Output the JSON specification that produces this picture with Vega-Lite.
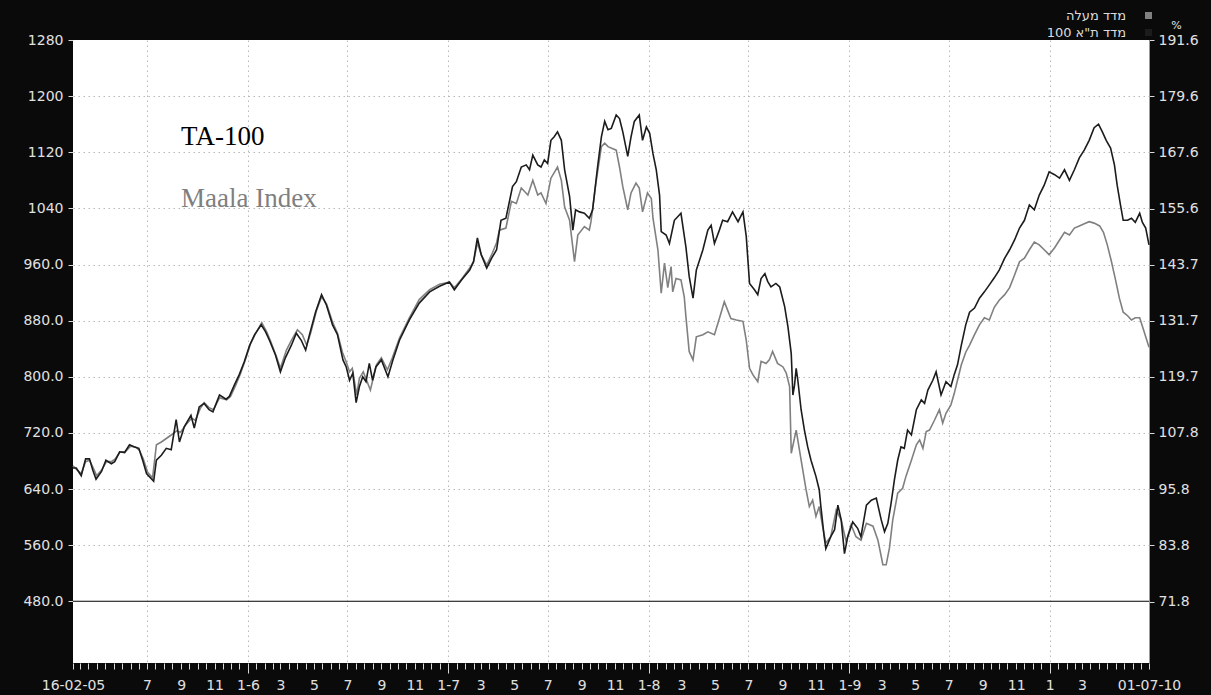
{
  "$schema": "https://vega.github.io/schema/vega-lite/v6.json",
  "width": 1076,
  "height": 623,
  "autosize": "none",
  "padding": {"left": 73, "top": 40, "right": 62, "bottom": 32},
  "background": "#0a0a0a",
  "config": {
    "view": {"fill": "#ffffff", "stroke": null},
    "font": "DejaVu Sans"
  },
  "datasets": {
    "prices": [
      {"date": "2005-02-16", "series": "Maala", "value": 673},
      {"date": "2005-02-24", "series": "Maala", "value": 667},
      {"date": "2005-03-03", "series": "Maala", "value": 662},
      {"date": "2005-03-11", "series": "Maala", "value": 679},
      {"date": "2005-03-18", "series": "Maala", "value": 681},
      {"date": "2005-03-25", "series": "Maala", "value": 670},
      {"date": "2005-03-31", "series": "Maala", "value": 659},
      {"date": "2005-04-09", "series": "Maala", "value": 667},
      {"date": "2005-04-18", "series": "Maala", "value": 679},
      {"date": "2005-04-27", "series": "Maala", "value": 679},
      {"date": "2005-05-04", "series": "Maala", "value": 683},
      {"date": "2005-05-13", "series": "Maala", "value": 693},
      {"date": "2005-05-22", "series": "Maala", "value": 693},
      {"date": "2005-06-01", "series": "Maala", "value": 701},
      {"date": "2005-06-10", "series": "Maala", "value": 700},
      {"date": "2005-06-17", "series": "Maala", "value": 695},
      {"date": "2005-06-24", "series": "Maala", "value": 683},
      {"date": "2005-07-02", "series": "Maala", "value": 664},
      {"date": "2005-07-11", "series": "Maala", "value": 656},
      {"date": "2005-07-18", "series": "Maala", "value": 703},
      {"date": "2005-07-27", "series": "Maala", "value": 707},
      {"date": "2005-08-05", "series": "Maala", "value": 712},
      {"date": "2005-08-14", "series": "Maala", "value": 717},
      {"date": "2005-08-24", "series": "Maala", "value": 723},
      {"date": "2005-08-31", "series": "Maala", "value": 721},
      {"date": "2005-09-09", "series": "Maala", "value": 731},
      {"date": "2005-09-20", "series": "Maala", "value": 741},
      {"date": "2005-09-27", "series": "Maala", "value": 738},
      {"date": "2005-10-06", "series": "Maala", "value": 755},
      {"date": "2005-10-13", "series": "Maala", "value": 763},
      {"date": "2005-10-22", "series": "Maala", "value": 756},
      {"date": "2005-10-30", "series": "Maala", "value": 753},
      {"date": "2005-11-10", "series": "Maala", "value": 770},
      {"date": "2005-11-23", "series": "Maala", "value": 767},
      {"date": "2005-11-30", "series": "Maala", "value": 772},
      {"date": "2005-12-09", "series": "Maala", "value": 787},
      {"date": "2005-12-18", "series": "Maala", "value": 804},
      {"date": "2005-12-27", "series": "Maala", "value": 824},
      {"date": "2006-01-06", "series": "Maala", "value": 848},
      {"date": "2006-01-15", "series": "Maala", "value": 862},
      {"date": "2006-01-26", "series": "Maala", "value": 877},
      {"date": "2006-02-04", "series": "Maala", "value": 864},
      {"date": "2006-02-11", "series": "Maala", "value": 851},
      {"date": "2006-02-22", "series": "Maala", "value": 828},
      {"date": "2006-03-01", "series": "Maala", "value": 812},
      {"date": "2006-03-12", "series": "Maala", "value": 838},
      {"date": "2006-03-21", "series": "Maala", "value": 852},
      {"date": "2006-04-01", "series": "Maala", "value": 867},
      {"date": "2006-04-10", "series": "Maala", "value": 860},
      {"date": "2006-04-18", "series": "Maala", "value": 845},
      {"date": "2006-04-25", "series": "Maala", "value": 862},
      {"date": "2006-05-06", "series": "Maala", "value": 895},
      {"date": "2006-05-15", "series": "Maala", "value": 914},
      {"date": "2006-05-24", "series": "Maala", "value": 904},
      {"date": "2006-06-04", "series": "Maala", "value": 878},
      {"date": "2006-06-13", "series": "Maala", "value": 862},
      {"date": "2006-06-22", "series": "Maala", "value": 835},
      {"date": "2006-06-29", "series": "Maala", "value": 821},
      {"date": "2006-07-05", "series": "Maala", "value": 807},
      {"date": "2006-07-10", "series": "Maala", "value": 812},
      {"date": "2006-07-18", "series": "Maala", "value": 774},
      {"date": "2006-07-23", "series": "Maala", "value": 798},
      {"date": "2006-07-30", "series": "Maala", "value": 807},
      {"date": "2006-08-05", "series": "Maala", "value": 795},
      {"date": "2006-08-12", "series": "Maala", "value": 781},
      {"date": "2006-08-18", "series": "Maala", "value": 801},
      {"date": "2006-08-23", "series": "Maala", "value": 817},
      {"date": "2006-09-01", "series": "Maala", "value": 827},
      {"date": "2006-09-12", "series": "Maala", "value": 810},
      {"date": "2006-09-21", "series": "Maala", "value": 827},
      {"date": "2006-10-04", "series": "Maala", "value": 855},
      {"date": "2006-10-22", "series": "Maala", "value": 884},
      {"date": "2006-11-09", "series": "Maala", "value": 910},
      {"date": "2006-11-28", "series": "Maala", "value": 924},
      {"date": "2006-12-16", "series": "Maala", "value": 932},
      {"date": "2007-01-03", "series": "Maala", "value": 935},
      {"date": "2007-01-12", "series": "Maala", "value": 927},
      {"date": "2007-01-25", "series": "Maala", "value": 939},
      {"date": "2007-02-09", "series": "Maala", "value": 955},
      {"date": "2007-02-16", "series": "Maala", "value": 964},
      {"date": "2007-02-23", "series": "Maala", "value": 991},
      {"date": "2007-03-02", "series": "Maala", "value": 974},
      {"date": "2007-03-12", "series": "Maala", "value": 959},
      {"date": "2007-03-21", "series": "Maala", "value": 974},
      {"date": "2007-03-30", "series": "Maala", "value": 991},
      {"date": "2007-04-04", "series": "Maala", "value": 1009},
      {"date": "2007-04-16", "series": "Maala", "value": 1012},
      {"date": "2007-04-26", "series": "Maala", "value": 1050},
      {"date": "2007-05-05", "series": "Maala", "value": 1047},
      {"date": "2007-05-14", "series": "Maala", "value": 1069},
      {"date": "2007-05-26", "series": "Maala", "value": 1059},
      {"date": "2007-06-04", "series": "Maala", "value": 1080},
      {"date": "2007-06-13", "series": "Maala", "value": 1059},
      {"date": "2007-06-19", "series": "Maala", "value": 1062},
      {"date": "2007-06-28", "series": "Maala", "value": 1047},
      {"date": "2007-07-07", "series": "Maala", "value": 1083},
      {"date": "2007-07-19", "series": "Maala", "value": 1099},
      {"date": "2007-07-26", "series": "Maala", "value": 1080},
      {"date": "2007-08-01", "series": "Maala", "value": 1042},
      {"date": "2007-08-10", "series": "Maala", "value": 1023},
      {"date": "2007-08-19", "series": "Maala", "value": 964},
      {"date": "2007-08-25", "series": "Maala", "value": 1002},
      {"date": "2007-09-06", "series": "Maala", "value": 1014},
      {"date": "2007-09-15", "series": "Maala", "value": 1009},
      {"date": "2007-09-18", "series": "Maala", "value": 1021},
      {"date": "2007-09-27", "series": "Maala", "value": 1076},
      {"date": "2007-10-07", "series": "Maala", "value": 1128},
      {"date": "2007-10-13", "series": "Maala", "value": 1133},
      {"date": "2007-10-19", "series": "Maala", "value": 1128},
      {"date": "2007-11-03", "series": "Maala", "value": 1123},
      {"date": "2007-11-09", "series": "Maala", "value": 1099},
      {"date": "2007-11-15", "series": "Maala", "value": 1071},
      {"date": "2007-11-24", "series": "Maala", "value": 1038},
      {"date": "2007-11-30", "series": "Maala", "value": 1062},
      {"date": "2007-12-09", "series": "Maala", "value": 1076},
      {"date": "2007-12-15", "series": "Maala", "value": 1069},
      {"date": "2007-12-21", "series": "Maala", "value": 1035},
      {"date": "2007-12-30", "series": "Maala", "value": 1062},
      {"date": "2008-01-06", "series": "Maala", "value": 1054},
      {"date": "2008-01-09", "series": "Maala", "value": 1026},
      {"date": "2008-01-18", "series": "Maala", "value": 981},
      {"date": "2008-01-24", "series": "Maala", "value": 919},
      {"date": "2008-01-30", "series": "Maala", "value": 962},
      {"date": "2008-02-05", "series": "Maala", "value": 927},
      {"date": "2008-02-11", "series": "Maala", "value": 957},
      {"date": "2008-02-14", "series": "Maala", "value": 921},
      {"date": "2008-02-20", "series": "Maala", "value": 940},
      {"date": "2008-02-29", "series": "Maala", "value": 938},
      {"date": "2008-03-06", "series": "Maala", "value": 914},
      {"date": "2008-03-09", "series": "Maala", "value": 886},
      {"date": "2008-03-15", "series": "Maala", "value": 836},
      {"date": "2008-03-22", "series": "Maala", "value": 824},
      {"date": "2008-03-28", "series": "Maala", "value": 857},
      {"date": "2008-04-09", "series": "Maala", "value": 860},
      {"date": "2008-04-18", "series": "Maala", "value": 864},
      {"date": "2008-04-30", "series": "Maala", "value": 860},
      {"date": "2008-05-09", "series": "Maala", "value": 883},
      {"date": "2008-05-18", "series": "Maala", "value": 907},
      {"date": "2008-05-24", "series": "Maala", "value": 895},
      {"date": "2008-05-30", "series": "Maala", "value": 883},
      {"date": "2008-06-09", "series": "Maala", "value": 881},
      {"date": "2008-06-21", "series": "Maala", "value": 879},
      {"date": "2008-06-27", "series": "Maala", "value": 852},
      {"date": "2008-07-03", "series": "Maala", "value": 812},
      {"date": "2008-07-09", "series": "Maala", "value": 803},
      {"date": "2008-07-18", "series": "Maala", "value": 793},
      {"date": "2008-07-24", "series": "Maala", "value": 822},
      {"date": "2008-08-02", "series": "Maala", "value": 819},
      {"date": "2008-08-08", "series": "Maala", "value": 824},
      {"date": "2008-08-14", "series": "Maala", "value": 836},
      {"date": "2008-08-23", "series": "Maala", "value": 819},
      {"date": "2008-09-02", "series": "Maala", "value": 814},
      {"date": "2008-09-08", "series": "Maala", "value": 805},
      {"date": "2008-09-14", "series": "Maala", "value": 786},
      {"date": "2008-09-17", "series": "Maala", "value": 691},
      {"date": "2008-09-26", "series": "Maala", "value": 724},
      {"date": "2008-10-05", "series": "Maala", "value": 681},
      {"date": "2008-10-14", "series": "Maala", "value": 639},
      {"date": "2008-10-20", "series": "Maala", "value": 615},
      {"date": "2008-10-26", "series": "Maala", "value": 624},
      {"date": "2008-11-01", "series": "Maala", "value": 601},
      {"date": "2008-11-07", "series": "Maala", "value": 615},
      {"date": "2008-11-13", "series": "Maala", "value": 587},
      {"date": "2008-11-19", "series": "Maala", "value": 563},
      {"date": "2008-11-28", "series": "Maala", "value": 572},
      {"date": "2008-12-08", "series": "Maala", "value": 610},
      {"date": "2008-12-17", "series": "Maala", "value": 596},
      {"date": "2008-12-26", "series": "Maala", "value": 565},
      {"date": "2009-01-04", "series": "Maala", "value": 589},
      {"date": "2009-01-13", "series": "Maala", "value": 572},
      {"date": "2009-01-22", "series": "Maala", "value": 567},
      {"date": "2009-02-01", "series": "Maala", "value": 591},
      {"date": "2009-02-13", "series": "Maala", "value": 587},
      {"date": "2009-02-22", "series": "Maala", "value": 567},
      {"date": "2009-03-03", "series": "Maala", "value": 532},
      {"date": "2009-03-09", "series": "Maala", "value": 532},
      {"date": "2009-03-15", "series": "Maala", "value": 556},
      {"date": "2009-03-21", "series": "Maala", "value": 596},
      {"date": "2009-03-30", "series": "Maala", "value": 634},
      {"date": "2009-04-08", "series": "Maala", "value": 641},
      {"date": "2009-04-14", "series": "Maala", "value": 658},
      {"date": "2009-04-24", "series": "Maala", "value": 681},
      {"date": "2009-05-03", "series": "Maala", "value": 703},
      {"date": "2009-05-09", "series": "Maala", "value": 710},
      {"date": "2009-05-15", "series": "Maala", "value": 698},
      {"date": "2009-05-21", "series": "Maala", "value": 722},
      {"date": "2009-05-27", "series": "Maala", "value": 724},
      {"date": "2009-06-05", "series": "Maala", "value": 738},
      {"date": "2009-06-14", "series": "Maala", "value": 753},
      {"date": "2009-06-20", "series": "Maala", "value": 734},
      {"date": "2009-06-26", "series": "Maala", "value": 748},
      {"date": "2009-07-05", "series": "Maala", "value": 760},
      {"date": "2009-07-11", "series": "Maala", "value": 776},
      {"date": "2009-07-17", "series": "Maala", "value": 795},
      {"date": "2009-07-24", "series": "Maala", "value": 817},
      {"date": "2009-08-01", "series": "Maala", "value": 835},
      {"date": "2009-08-08", "series": "Maala", "value": 845},
      {"date": "2009-08-17", "series": "Maala", "value": 860},
      {"date": "2009-08-26", "series": "Maala", "value": 874},
      {"date": "2009-09-04", "series": "Maala", "value": 884},
      {"date": "2009-09-13", "series": "Maala", "value": 881},
      {"date": "2009-09-22", "series": "Maala", "value": 899},
      {"date": "2009-10-01", "series": "Maala", "value": 909},
      {"date": "2009-10-11", "series": "Maala", "value": 917},
      {"date": "2009-10-20", "series": "Maala", "value": 927},
      {"date": "2009-10-29", "series": "Maala", "value": 945},
      {"date": "2009-11-07", "series": "Maala", "value": 964},
      {"date": "2009-11-16", "series": "Maala", "value": 969},
      {"date": "2009-11-25", "series": "Maala", "value": 981},
      {"date": "2009-12-04", "series": "Maala", "value": 992},
      {"date": "2009-12-13", "series": "Maala", "value": 988},
      {"date": "2009-12-22", "series": "Maala", "value": 981},
      {"date": "2009-12-31", "series": "Maala", "value": 974},
      {"date": "2010-01-10", "series": "Maala", "value": 984},
      {"date": "2010-01-19", "series": "Maala", "value": 995},
      {"date": "2010-01-28", "series": "Maala", "value": 1006},
      {"date": "2010-02-06", "series": "Maala", "value": 1002},
      {"date": "2010-02-15", "series": "Maala", "value": 1012},
      {"date": "2010-02-24", "series": "Maala", "value": 1015},
      {"date": "2010-03-05", "series": "Maala", "value": 1018},
      {"date": "2010-03-14", "series": "Maala", "value": 1021},
      {"date": "2010-03-23", "series": "Maala", "value": 1019},
      {"date": "2010-04-02", "series": "Maala", "value": 1015},
      {"date": "2010-04-09", "series": "Maala", "value": 1006},
      {"date": "2010-04-16", "series": "Maala", "value": 988},
      {"date": "2010-04-23", "series": "Maala", "value": 966},
      {"date": "2010-05-01", "series": "Maala", "value": 938},
      {"date": "2010-05-08", "series": "Maala", "value": 912},
      {"date": "2010-05-15", "series": "Maala", "value": 892},
      {"date": "2010-05-23", "series": "Maala", "value": 887},
      {"date": "2010-05-30", "series": "Maala", "value": 881},
      {"date": "2010-06-06", "series": "Maala", "value": 884},
      {"date": "2010-06-14", "series": "Maala", "value": 884},
      {"date": "2010-06-21", "series": "Maala", "value": 867},
      {"date": "2010-07-01", "series": "Maala", "value": 842},
      {"date": "2005-02-16", "series": "TA-100", "value": 670},
      {"date": "2005-02-22", "series": "TA-100", "value": 670},
      {"date": "2005-03-03", "series": "TA-100", "value": 659},
      {"date": "2005-03-11", "series": "TA-100", "value": 683},
      {"date": "2005-03-18", "series": "TA-100", "value": 683},
      {"date": "2005-03-24", "series": "TA-100", "value": 667},
      {"date": "2005-03-30", "series": "TA-100", "value": 654},
      {"date": "2005-04-09", "series": "TA-100", "value": 665},
      {"date": "2005-04-17", "series": "TA-100", "value": 681},
      {"date": "2005-04-27", "series": "TA-100", "value": 676},
      {"date": "2005-05-03", "series": "TA-100", "value": 679},
      {"date": "2005-05-12", "series": "TA-100", "value": 693},
      {"date": "2005-05-21", "series": "TA-100", "value": 692},
      {"date": "2005-05-30", "series": "TA-100", "value": 703},
      {"date": "2005-06-08", "series": "TA-100", "value": 700},
      {"date": "2005-06-16", "series": "TA-100", "value": 698},
      {"date": "2005-06-23", "series": "TA-100", "value": 681},
      {"date": "2005-06-30", "series": "TA-100", "value": 662},
      {"date": "2005-07-13", "series": "TA-100", "value": 651},
      {"date": "2005-07-18", "series": "TA-100", "value": 681},
      {"date": "2005-07-27", "series": "TA-100", "value": 688},
      {"date": "2005-08-05", "series": "TA-100", "value": 698},
      {"date": "2005-08-14", "series": "TA-100", "value": 696},
      {"date": "2005-08-23", "series": "TA-100", "value": 739},
      {"date": "2005-08-29", "series": "TA-100", "value": 707},
      {"date": "2005-09-07", "series": "TA-100", "value": 729},
      {"date": "2005-09-19", "series": "TA-100", "value": 745},
      {"date": "2005-09-25", "series": "TA-100", "value": 727},
      {"date": "2005-10-04", "series": "TA-100", "value": 757},
      {"date": "2005-10-13", "series": "TA-100", "value": 762},
      {"date": "2005-10-22", "series": "TA-100", "value": 753},
      {"date": "2005-10-29", "series": "TA-100", "value": 750},
      {"date": "2005-11-10", "series": "TA-100", "value": 774},
      {"date": "2005-11-22", "series": "TA-100", "value": 768},
      {"date": "2005-11-28", "series": "TA-100", "value": 772},
      {"date": "2005-12-07", "series": "TA-100", "value": 788},
      {"date": "2005-12-16", "series": "TA-100", "value": 803},
      {"date": "2005-12-25", "series": "TA-100", "value": 821},
      {"date": "2006-01-04", "series": "TA-100", "value": 845},
      {"date": "2006-01-13", "series": "TA-100", "value": 860},
      {"date": "2006-01-25", "series": "TA-100", "value": 874},
      {"date": "2006-02-02", "series": "TA-100", "value": 864},
      {"date": "2006-02-09", "series": "TA-100", "value": 852},
      {"date": "2006-02-20", "series": "TA-100", "value": 831},
      {"date": "2006-03-01", "series": "TA-100", "value": 807},
      {"date": "2006-03-10", "series": "TA-100", "value": 827},
      {"date": "2006-03-21", "series": "TA-100", "value": 845},
      {"date": "2006-03-30", "series": "TA-100", "value": 862},
      {"date": "2006-04-08", "series": "TA-100", "value": 852},
      {"date": "2006-04-16", "series": "TA-100", "value": 838},
      {"date": "2006-04-23", "series": "TA-100", "value": 860},
      {"date": "2006-05-04", "series": "TA-100", "value": 892},
      {"date": "2006-05-15", "series": "TA-100", "value": 917},
      {"date": "2006-05-24", "series": "TA-100", "value": 902},
      {"date": "2006-06-04", "series": "TA-100", "value": 874},
      {"date": "2006-06-13", "series": "TA-100", "value": 860},
      {"date": "2006-06-23", "series": "TA-100", "value": 824},
      {"date": "2006-06-29", "series": "TA-100", "value": 814},
      {"date": "2006-07-05", "series": "TA-100", "value": 795},
      {"date": "2006-07-11", "series": "TA-100", "value": 805},
      {"date": "2006-07-17", "series": "TA-100", "value": 763},
      {"date": "2006-07-23", "series": "TA-100", "value": 786},
      {"date": "2006-07-29", "series": "TA-100", "value": 800},
      {"date": "2006-08-04", "series": "TA-100", "value": 793},
      {"date": "2006-08-10", "series": "TA-100", "value": 819},
      {"date": "2006-08-16", "series": "TA-100", "value": 795},
      {"date": "2006-08-22", "series": "TA-100", "value": 814},
      {"date": "2006-09-01", "series": "TA-100", "value": 824},
      {"date": "2006-09-13", "series": "TA-100", "value": 800},
      {"date": "2006-09-22", "series": "TA-100", "value": 824},
      {"date": "2006-10-04", "series": "TA-100", "value": 852},
      {"date": "2006-10-22", "series": "TA-100", "value": 881},
      {"date": "2006-11-09", "series": "TA-100", "value": 905},
      {"date": "2006-11-28", "series": "TA-100", "value": 921},
      {"date": "2006-12-16", "series": "TA-100", "value": 929},
      {"date": "2007-01-03", "series": "TA-100", "value": 935},
      {"date": "2007-01-12", "series": "TA-100", "value": 924},
      {"date": "2007-01-25", "series": "TA-100", "value": 938},
      {"date": "2007-02-09", "series": "TA-100", "value": 952},
      {"date": "2007-02-16", "series": "TA-100", "value": 964},
      {"date": "2007-02-23", "series": "TA-100", "value": 998},
      {"date": "2007-03-02", "series": "TA-100", "value": 974},
      {"date": "2007-03-12", "series": "TA-100", "value": 955},
      {"date": "2007-03-21", "series": "TA-100", "value": 969},
      {"date": "2007-03-30", "series": "TA-100", "value": 981},
      {"date": "2007-04-07", "series": "TA-100", "value": 1023},
      {"date": "2007-04-16", "series": "TA-100", "value": 1026},
      {"date": "2007-04-28", "series": "TA-100", "value": 1071},
      {"date": "2007-05-05", "series": "TA-100", "value": 1078},
      {"date": "2007-05-14", "series": "TA-100", "value": 1099},
      {"date": "2007-05-23", "series": "TA-100", "value": 1102},
      {"date": "2007-05-29", "series": "TA-100", "value": 1095},
      {"date": "2007-06-04", "series": "TA-100", "value": 1116},
      {"date": "2007-06-13", "series": "TA-100", "value": 1102},
      {"date": "2007-06-19", "series": "TA-100", "value": 1099},
      {"date": "2007-06-25", "series": "TA-100", "value": 1109},
      {"date": "2007-07-01", "series": "TA-100", "value": 1104},
      {"date": "2007-07-07", "series": "TA-100", "value": 1137},
      {"date": "2007-07-13", "series": "TA-100", "value": 1142},
      {"date": "2007-07-19", "series": "TA-100", "value": 1149},
      {"date": "2007-07-26", "series": "TA-100", "value": 1137},
      {"date": "2007-08-01", "series": "TA-100", "value": 1095},
      {"date": "2007-08-10", "series": "TA-100", "value": 1057},
      {"date": "2007-08-16", "series": "TA-100", "value": 1009},
      {"date": "2007-08-21", "series": "TA-100", "value": 1038},
      {"date": "2007-08-28", "series": "TA-100", "value": 1035},
      {"date": "2007-09-06", "series": "TA-100", "value": 1033},
      {"date": "2007-09-15", "series": "TA-100", "value": 1026},
      {"date": "2007-09-21", "series": "TA-100", "value": 1038},
      {"date": "2007-09-30", "series": "TA-100", "value": 1099},
      {"date": "2007-10-07", "series": "TA-100", "value": 1142},
      {"date": "2007-10-13", "series": "TA-100", "value": 1164},
      {"date": "2007-10-19", "series": "TA-100", "value": 1152},
      {"date": "2007-10-25", "series": "TA-100", "value": 1154},
      {"date": "2007-11-03", "series": "TA-100", "value": 1173},
      {"date": "2007-11-09", "series": "TA-100", "value": 1168},
      {"date": "2007-11-15", "series": "TA-100", "value": 1149},
      {"date": "2007-11-24", "series": "TA-100", "value": 1114},
      {"date": "2007-11-30", "series": "TA-100", "value": 1142},
      {"date": "2007-12-06", "series": "TA-100", "value": 1164},
      {"date": "2007-12-15", "series": "TA-100", "value": 1173},
      {"date": "2007-12-21", "series": "TA-100", "value": 1137},
      {"date": "2007-12-28", "series": "TA-100", "value": 1156},
      {"date": "2008-01-03", "series": "TA-100", "value": 1147},
      {"date": "2008-01-09", "series": "TA-100", "value": 1118},
      {"date": "2008-01-15", "series": "TA-100", "value": 1095},
      {"date": "2008-01-21", "series": "TA-100", "value": 1059},
      {"date": "2008-01-24", "series": "TA-100", "value": 1007},
      {"date": "2008-02-02", "series": "TA-100", "value": 1002},
      {"date": "2008-02-08", "series": "TA-100", "value": 990},
      {"date": "2008-02-17", "series": "TA-100", "value": 1023},
      {"date": "2008-02-29", "series": "TA-100", "value": 1033},
      {"date": "2008-03-09", "series": "TA-100", "value": 985},
      {"date": "2008-03-15", "series": "TA-100", "value": 943},
      {"date": "2008-03-22", "series": "TA-100", "value": 912},
      {"date": "2008-03-28", "series": "TA-100", "value": 952},
      {"date": "2008-04-09", "series": "TA-100", "value": 981},
      {"date": "2008-04-18", "series": "TA-100", "value": 1009},
      {"date": "2008-04-24", "series": "TA-100", "value": 1016},
      {"date": "2008-04-30", "series": "TA-100", "value": 990},
      {"date": "2008-05-09", "series": "TA-100", "value": 1009},
      {"date": "2008-05-15", "series": "TA-100", "value": 1023},
      {"date": "2008-05-24", "series": "TA-100", "value": 1021},
      {"date": "2008-06-02", "series": "TA-100", "value": 1035},
      {"date": "2008-06-12", "series": "TA-100", "value": 1021},
      {"date": "2008-06-21", "series": "TA-100", "value": 1035},
      {"date": "2008-06-27", "series": "TA-100", "value": 1000},
      {"date": "2008-07-03", "series": "TA-100", "value": 933},
      {"date": "2008-07-12", "series": "TA-100", "value": 924},
      {"date": "2008-07-18", "series": "TA-100", "value": 917},
      {"date": "2008-07-24", "series": "TA-100", "value": 940},
      {"date": "2008-07-31", "series": "TA-100", "value": 947},
      {"date": "2008-08-05", "series": "TA-100", "value": 936},
      {"date": "2008-08-11", "series": "TA-100", "value": 928},
      {"date": "2008-08-20", "series": "TA-100", "value": 933},
      {"date": "2008-08-27", "series": "TA-100", "value": 928},
      {"date": "2008-09-05", "series": "TA-100", "value": 900},
      {"date": "2008-09-11", "series": "TA-100", "value": 871},
      {"date": "2008-09-17", "series": "TA-100", "value": 833},
      {"date": "2008-09-20", "series": "TA-100", "value": 774},
      {"date": "2008-09-23", "series": "TA-100", "value": 788},
      {"date": "2008-09-26", "series": "TA-100", "value": 812},
      {"date": "2008-09-29", "series": "TA-100", "value": 795},
      {"date": "2008-10-05", "series": "TA-100", "value": 753},
      {"date": "2008-10-11", "series": "TA-100", "value": 724},
      {"date": "2008-10-17", "series": "TA-100", "value": 700},
      {"date": "2008-10-23", "series": "TA-100", "value": 681},
      {"date": "2008-11-01", "series": "TA-100", "value": 658},
      {"date": "2008-11-07", "series": "TA-100", "value": 639},
      {"date": "2008-11-10", "series": "TA-100", "value": 615},
      {"date": "2008-11-16", "series": "TA-100", "value": 572},
      {"date": "2008-11-19", "series": "TA-100", "value": 555},
      {"date": "2008-11-28", "series": "TA-100", "value": 572},
      {"date": "2008-12-05", "series": "TA-100", "value": 582},
      {"date": "2008-12-11", "series": "TA-100", "value": 617},
      {"date": "2008-12-17", "series": "TA-100", "value": 596},
      {"date": "2008-12-23", "series": "TA-100", "value": 548},
      {"date": "2008-12-29", "series": "TA-100", "value": 572},
      {"date": "2009-01-07", "series": "TA-100", "value": 593},
      {"date": "2009-01-16", "series": "TA-100", "value": 584},
      {"date": "2009-01-22", "series": "TA-100", "value": 572},
      {"date": "2009-02-01", "series": "TA-100", "value": 617},
      {"date": "2009-02-10", "series": "TA-100", "value": 624},
      {"date": "2009-02-19", "series": "TA-100", "value": 627},
      {"date": "2009-02-28", "series": "TA-100", "value": 596},
      {"date": "2009-03-06", "series": "TA-100", "value": 579},
      {"date": "2009-03-12", "series": "TA-100", "value": 591},
      {"date": "2009-03-18", "series": "TA-100", "value": 620},
      {"date": "2009-03-24", "series": "TA-100", "value": 653},
      {"date": "2009-03-30", "series": "TA-100", "value": 681},
      {"date": "2009-04-05", "series": "TA-100", "value": 700},
      {"date": "2009-04-11", "series": "TA-100", "value": 698},
      {"date": "2009-04-17", "series": "TA-100", "value": 724},
      {"date": "2009-04-24", "series": "TA-100", "value": 717},
      {"date": "2009-05-03", "series": "TA-100", "value": 753},
      {"date": "2009-05-12", "series": "TA-100", "value": 767},
      {"date": "2009-05-18", "series": "TA-100", "value": 762},
      {"date": "2009-05-24", "series": "TA-100", "value": 781},
      {"date": "2009-06-02", "series": "TA-100", "value": 795},
      {"date": "2009-06-08", "series": "TA-100", "value": 807},
      {"date": "2009-06-17", "series": "TA-100", "value": 774},
      {"date": "2009-06-26", "series": "TA-100", "value": 793},
      {"date": "2009-07-05", "series": "TA-100", "value": 786},
      {"date": "2009-07-11", "series": "TA-100", "value": 803},
      {"date": "2009-07-17", "series": "TA-100", "value": 817},
      {"date": "2009-07-24", "series": "TA-100", "value": 845},
      {"date": "2009-08-01", "series": "TA-100", "value": 874},
      {"date": "2009-08-08", "series": "TA-100", "value": 892},
      {"date": "2009-08-17", "series": "TA-100", "value": 898},
      {"date": "2009-08-26", "series": "TA-100", "value": 912},
      {"date": "2009-09-04", "series": "TA-100", "value": 921},
      {"date": "2009-09-13", "series": "TA-100", "value": 931},
      {"date": "2009-09-22", "series": "TA-100", "value": 941},
      {"date": "2009-10-01", "series": "TA-100", "value": 952},
      {"date": "2009-10-11", "series": "TA-100", "value": 969},
      {"date": "2009-10-20", "series": "TA-100", "value": 981},
      {"date": "2009-10-29", "series": "TA-100", "value": 995},
      {"date": "2009-11-07", "series": "TA-100", "value": 1012},
      {"date": "2009-11-16", "series": "TA-100", "value": 1023},
      {"date": "2009-11-25", "series": "TA-100", "value": 1045},
      {"date": "2009-12-04", "series": "TA-100", "value": 1038},
      {"date": "2009-12-13", "series": "TA-100", "value": 1059},
      {"date": "2009-12-22", "series": "TA-100", "value": 1073},
      {"date": "2009-12-31", "series": "TA-100", "value": 1092},
      {"date": "2010-01-10", "series": "TA-100", "value": 1088},
      {"date": "2010-01-19", "series": "TA-100", "value": 1083},
      {"date": "2010-01-28", "series": "TA-100", "value": 1095},
      {"date": "2010-02-06", "series": "TA-100", "value": 1080},
      {"date": "2010-02-15", "series": "TA-100", "value": 1095},
      {"date": "2010-02-24", "series": "TA-100", "value": 1112},
      {"date": "2010-03-05", "series": "TA-100", "value": 1123},
      {"date": "2010-03-14", "series": "TA-100", "value": 1137},
      {"date": "2010-03-23", "series": "TA-100", "value": 1155},
      {"date": "2010-03-31", "series": "TA-100", "value": 1160},
      {"date": "2010-04-07", "series": "TA-100", "value": 1149},
      {"date": "2010-04-14", "series": "TA-100", "value": 1137},
      {"date": "2010-04-22", "series": "TA-100", "value": 1126},
      {"date": "2010-04-29", "series": "TA-100", "value": 1102},
      {"date": "2010-05-04", "series": "TA-100", "value": 1073},
      {"date": "2010-05-10", "series": "TA-100", "value": 1045},
      {"date": "2010-05-15", "series": "TA-100", "value": 1023},
      {"date": "2010-05-23", "series": "TA-100", "value": 1023},
      {"date": "2010-05-30", "series": "TA-100", "value": 1026},
      {"date": "2010-06-06", "series": "TA-100", "value": 1020},
      {"date": "2010-06-14", "series": "TA-100", "value": 1033},
      {"date": "2010-06-19", "series": "TA-100", "value": 1020},
      {"date": "2010-06-25", "series": "TA-100", "value": 1012},
      {"date": "2010-07-01", "series": "TA-100", "value": 988}
    ]
  },
  "layer": [
    {
      "layer": [
        {
          "data": {"values": [{"level": 480}]},
          "mark": {"type": "rule", "color": "#000000", "strokeWidth": 1},
          "encoding": {
            "y": {"field": "level", "type": "quantitative", "scale": {"domain": [392, 1280], "nice": false, "zero": false}}
          }
        },
        {
          "data": {"name": "prices"},
          "mark": {"type": "line", "strokeWidth": 1.6, "interpolate": "linear"},
          "encoding": {
            "x": {
              "field": "date",
              "type": "temporal",
              "scale": {
                "type": "utc",
                "domain": [
                  {"year": 2005, "month": 2, "date": 16, "utc": true},
                  {"year": 2010, "month": 7, "date": 1, "utc": true}
                ]
              },
              "axis": {
                "title": null,
                "tickCount": {"interval": "day", "step": 15},
                "labelExpr": "(utcyear(datum.value)==2005 && utcmonth(datum.value)==1) ? '16-02-05' : (utcyear(datum.value)==2010 && utcmonth(datum.value)==6) ? '01-07-10' : (utcdate(datum.value)!=1 || utcmonth(datum.value)%2!=0 || (utcyear(datum.value)==2005 && utcmonth(datum.value)<6) || (utcyear(datum.value)==2010 && utcmonth(datum.value)==4)) ? '' : utcmonth(datum.value)==0 ? (utcyear(datum.value)==2010 ? '1' : '1-' + (utcyear(datum.value)-2000)) : '' + (utcmonth(datum.value)+1)",
                "domain": false,
                "tickColor": "#d8d8d8",
                "tickWidth": 1,
                "tickSize": {"condition": {"test": "utcmonth(datum.value)==0 && utcdate(datum.value)==1", "value": 10}, "value": 6},
                "tickOpacity": {"condition": {"test": "utcdate(datum.value)==31", "value": 0}, "value": 1},
                "labelColor": "#e0e0e0",
                "labelFont": "DejaVu Sans",
                "labelFontSize": 14,
                "labelPadding": {"condition": {"test": "utcmonth(datum.value)==0 && utcdate(datum.value)==1", "value": 5}, "value": 9},
                "labelFlush": false,
                "labelOverlap": false,
                "labelBound": false,
                "grid": true,
                "gridColor": "#b8b8b8",
                "gridDash": [1.5, 3.5],
                "gridOpacity": {"condition": {"test": "utcdate(datum.value)==1 && (utcmonth(datum.value)==0 || utcmonth(datum.value)==6) && (utcyear(datum.value)*12 + utcmonth(datum.value)) < 24126", "value": 1}, "value": 0}
              }
            },
            "y": {
              "field": "value",
              "type": "quantitative",
              "scale": {"domain": [392, 1280], "nice": false, "zero": false},
              "axis": {
                "title": null,
                "values": [480, 560, 640, 720, 800, 880, 960, 1040, 1120, 1200, 1280],
                "labelExpr": "datum.value >= 1000 ? format(datum.value, 'd') : format(datum.value, '.1f')",
                "domain": false,
                "tickColor": "#d8d8d8",
                "tickSize": 5,
                "labelColor": "#e0e0e0",
                "labelFont": "DejaVu Sans",
                "labelFontSize": 14,
                "labelPadding": 5,
                "labelFlush": false,
                "grid": true,
                "gridColor": "#b8b8b8",
                "gridDash": [1.5, 3.5],
                "gridOpacity": {"condition": {"test": "datum.value <= 480 || datum.value >= 1280", "value": 0}, "value": 1}
              }
            },
            "color": {
              "field": "series",
              "type": "nominal",
              "scale": {"domain": ["Maala", "TA-100"], "range": ["#808080", "#1c1c1c"]},
              "legend": {
                "orient": "none",
                "legendX": 1069,
                "legendY": -31,
                "title": null,
                "direction": "vertical",
                "symbolType": "square",
                "symbolSize": 49,
                "symbolStrokeWidth": 0,
                "labelColor": "#dcdcdc",
                "labelFont": "DejaVu Sans",
                "labelFontSize": 13,
                "labelAlign": "right",
                "labelOffset": -29,
                "rowPadding": 3,
                "padding": 0,
                "labelExpr": "datum.label == 'Maala' ? 'מדד מעלה' : 'מדד ת\"א 100'",
                "encode": {"symbols": {"update": {"fill": {"scale": "color", "field": "value"}, "opacity": {"value": 1}}}}
              }
            }
          }
        },
        {
          "data": {
            "values": [
              {"date": "2005-09-01", "value": 1130, "label": "TA-100"},
              {"date": "2005-09-01", "value": 1042, "label": "Maala Index"}
            ]
          },
          "mark": {"type": "text", "align": "left", "baseline": "alphabetic", "font": "Liberation Serif", "fontSize": 27},
          "encoding": {
            "x": {"field": "date", "type": "temporal"},
            "y": {"field": "value", "type": "quantitative"},
            "text": {"field": "label"},
            "color": {"condition": {"test": "datum.label == 'TA-100'", "value": "#000000"}, "value": "#7f7f7f"}
          }
        }
      ]
    },
    {
      "data": {"values": [{"pct": 71.8}, {"pct": 191.6}]},
      "mark": {"type": "point", "opacity": 0},
      "encoding": {
        "y": {
          "field": "pct",
          "type": "quantitative",
          "scale": {"domain": [58.68, 191.6], "nice": false, "zero": false},
          "axis": {
            "orient": "right",
            "title": "%",
            "titleAngle": 0,
            "titleX": 27,
            "titleY": -15,
            "titleAlign": "center",
            "titleBaseline": "middle",
            "titleColor": "#e0e0e0",
            "titleFont": "DejaVu Sans",
            "titleFontSize": 11,
            "titleFontWeight": "normal",
            "values": [71.8, 83.8, 95.8, 107.8, 119.7, 131.7, 143.7, 155.6, 167.6, 179.6, 191.6],
            "format": ".1f",
            "domain": true,
            "domainColor": "#9a9a9a",
            "tickColor": "#d8d8d8",
            "tickSize": 5,
            "labelColor": "#e0e0e0",
            "labelFont": "DejaVu Sans",
            "labelFontSize": 14,
            "labelPadding": 4,
            "labelFlush": false,
            "grid": false
          }
        }
      }
    }
  ],
  "resolve": {"scale": {"y": "independent"}, "axis": {"y": "independent"}}
}
